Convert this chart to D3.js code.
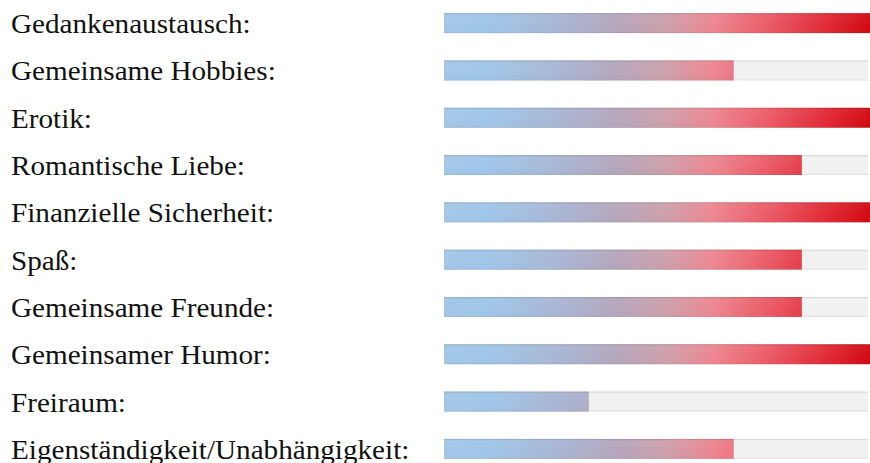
<!DOCTYPE html>
<html>
<head>
<meta charset="utf-8">
<script src="https://cdn.jsdelivr.net/npm/d3@7"></script>
<style>
  html, body { margin: 0; padding: 0; background: #fff; }
</style>
</head>
<body>
<div id="chart"></div>
<script>
const categories = ["Gedankenaustausch:", "Gemeinsame Hobbies:", "Erotik:", "Romantische Liebe:",
  "Finanzielle Sicherheit:", "Spaß:", "Gemeinsame Freunde:", "Gemeinsamer Humor:",
  "Freiraum:", "Eigenständigkeit/Unabhängigkeit:"]
const values = [100, 68, 100, 84, 100, 84, 84, 100, 34, 68]

const width = 870, height = 463
const svg = d3.select("#chart").append("svg")
  .attr("width", width)
  .attr("height", height)

const x = d3.scaleLinear().domain([0, 100]).range([444, 870])
const y = d3.scaleBand().domain(categories).range([-0.5, 472.5]).paddingInner(0.58).paddingOuter(0.29)

const defs = svg.append("defs")
// horizontal colour gradient over the whole track width
let grad = defs.append("linearGradient")
  .attr("id", "barGrad")
  .attr("gradientUnits", "userSpaceOnUse")
  .attr("x1", x(0)).attr("x2", x(100)).attr("y1", 0).attr("y2", 0)
const stops = [[0, "#a2c6e6"], [0.1, "#9ec5e8"], [0.28, "#a9b4d2"], [0.4, "#b3a6bc"],
  [0.52, "#cc9fab"], [0.63, "#ec8690"], [0.76, "#ea5a66"], [0.9, "#e02834"], [1, "#d00810"]]
stops.forEach(s => grad.append("stop").attr("offset", s[0]).attr("stop-color", s[1]))

// light vertical shading on bars
let shade = defs.append("linearGradient")
  .attr("id", "shade").attr("x1", 0).attr("x2", 0).attr("y1", 0).attr("y2", 1)
shade.append("stop").attr("offset", 0).attr("stop-color", "#000").attr("stop-opacity", 0.14)
shade.append("stop").attr("offset", 0.12).attr("stop-color", "#fff").attr("stop-opacity", 0.05)
shade.append("stop").attr("offset", 0.88).attr("stop-color", "#fff").attr("stop-opacity", 0)
shade.append("stop").attr("offset", 1).attr("stop-color", "#000").attr("stop-opacity", 0.1)

const rows = svg.selectAll("g.row")
  .data(categories)
  .enter()
  .append("g")
  .attr("class", "row")

// track
rows.append("rect")
  .attr("x", x(0))
  .attr("y", d => y(d))
  .attr("width", x(100) - x(0) - 2)
  .attr("height", y.bandwidth())
  .attr("fill", "#f1f1f1")
rows.append("rect")
  .attr("x", x(0))
  .attr("y", d => y(d))
  .attr("width", x(100) - x(0) - 2)
  .attr("height", y.bandwidth())
  .attr("fill", "url(#shade)")

// value bars
rows.append("rect")
  .attr("x", x(0))
  .attr("y", d => y(d))
  .attr("width", (d, i) => x(values[i]) - x(0))
  .attr("height", y.bandwidth())
  .attr("fill", "url(#barGrad)")
rows.append("rect")
  .attr("x", x(0))
  .attr("y", d => y(d))
  .attr("width", (d, i) => x(values[i]) - x(0))
  .attr("height", y.bandwidth())
  .attr("fill", "url(#shade)")

// labels (slightly widened serif)
rows.append("text")
  .attr("transform", d => `translate(11,${y(d) + y.bandwidth() / 2 + 10}) scale(1.08,1)`)
  .attr("font-family", "'Liberation Serif', 'DejaVu Serif', serif")
  .attr("font-size", 27)
  .attr("fill", "#111")
  .text(d => d)
</script>
</body>
</html>
